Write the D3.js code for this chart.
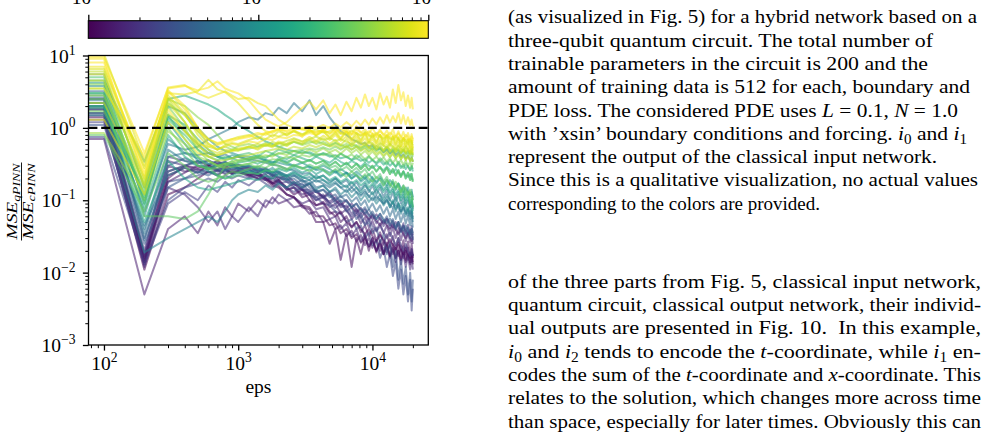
<!doctype html>
<html>
<head>
<meta charset="utf-8">
<script src="https://d3js.org/d3.v7.min.js"></script>
<style>
  body { margin: 0; background: #fff; }
  svg text { font-family: "Liberation Serif", "DejaVu Serif", serif; fill: #000; }
</style>
</head>
<body>
<svg width="1004" height="435"></svg>
<script>
// training steps (x values shared by every run)
var eps = [100, 200, 300, 400, 500, 600, 700, 800, 900, 1000,
           1200, 1400, 1600, 1800, 2000, 2300, 2600, 3000, 3400, 3800,
           4300, 4800, 5300, 5800, 6400, 7000, 7600, 8200, 8800, 9400,
           10000, 10700, 11400, 12100, 12800, 13500, 14200, 14900, 15600, 16300,
           17000, 17700, 18400, 19100, 19600, 20000];

// MSE_q / MSE_c per run, grouped by colour
var purpleTone = [0.05, 0.10, 0.00, 0.15, 0.08, 0.22, 0.12, 0.03, 0.25, 0.02, 0.07, 0.13, 0.18];
var purpleRuns = [
  [1.6, 0.013, 0.2, 0.3, 0.35, 0.3, 0.35, 0.3, 0.32, 0.28,
   0.27, 0.22, 0.23, 0.18, 0.19, 0.14, 0.15, 0.11, 0.12, 0.085,
   0.09, 0.065, 0.07, 0.05, 0.06, 0.042, 0.05, 0.036, 0.045, 0.032,
   0.04, 0.028, 0.036, 0.025, 0.034, 0.023, 0.032, 0.021, 0.03, 0.02,
   0.028, 0.019, 0.027, 0.018, 0.025, 0.017],
  [2.2, 0.015, 0.3, 0.25, 0.27, 0.24, 0.26, 0.23, 0.25, 0.24,
   0.23, 0.2, 0.21, 0.17, 0.18, 0.14, 0.15, 0.12, 0.13, 0.1,
   0.11, 0.08, 0.09, 0.065, 0.075, 0.055, 0.065, 0.048, 0.058, 0.042,
   0.052, 0.038, 0.048, 0.035, 0.045, 0.032, 0.042, 0.03, 0.04, 0.028,
   0.038, 0.027, 0.036, 0.026, 0.034, 0.025],
  [1.4, 0.011, 0.12, 0.15, 0.2, 0.25, 0.22, 0.26, 0.23, 0.25,
   0.22, 0.2, 0.19, 0.16, 0.15, 0.12, 0.11, 0.085, 0.08, 0.06,
   0.06, 0.045, 0.048, 0.035, 0.04, 0.03, 0.034, 0.026, 0.03, 0.023,
   0.027, 0.02, 0.025, 0.018, 0.023, 0.017, 0.021, 0.016, 0.02, 0.015,
   0.019, 0.014, 0.018, 0.013, 0.017, 0.013],
  [1.9, 0.02, 0.4, 0.35, 0.33, 0.35, 0.32, 0.34, 0.3, 0.31,
   0.28, 0.26, 0.25, 0.22, 0.21, 0.18, 0.17, 0.14, 0.14, 0.11,
   0.12, 0.09, 0.1, 0.08, 0.085, 0.065, 0.075, 0.058, 0.068, 0.052,
   0.062, 0.048, 0.058, 0.044, 0.055, 0.041, 0.052, 0.039, 0.05, 0.037,
   0.048, 0.035, 0.046, 0.034, 0.044, 0.033],
  [0.7, 0.005, 0.04, 0.06, 0.035, 0.07, 0.045, 0.08, 0.06, 0.09,
   0.07, 0.1, 0.08, 0.11, 0.09, 0.1, 0.08, 0.085, 0.065, 0.07,
   0.05, 0.055, 0.04, 0.045, 0.032, 0.038, 0.027, 0.033, 0.024, 0.03,
   0.022, 0.028, 0.02, 0.026, 0.019, 0.024, 0.018, 0.022, 0.017, 0.021,
   0.016, 0.02, 0.015, 0.019, 0.014, 0.018],
  [0.75, 0.014, 0.1, 0.15, 0.17, 0.2, 0.18, 0.22, 0.2, 0.22,
   0.2, 0.22, 0.19, 0.2, 0.17, 0.18, 0.15, 0.14, 0.12, 0.11,
   0.09, 0.085, 0.07, 0.065, 0.05, 0.055, 0.04, 0.045, 0.03, 0.036,
   0.024, 0.028, 0.016, 0.022, 0.012, 0.018, 0.009, 0.014, 0.006, 0.011,
   0.005, 0.009, 0.004, 0.008, 0.003, 0.006],
  [1.3, 0.012, 0.15, 0.12, 0.08, 0.05, 0.07, 0.04, 0.06, 0.05,
   0.08, 0.06, 0.1, 0.09, 0.12, 0.1, 0.11, 0.09, 0.1, 0.075,
   0.08, 0.055, 0.06, 0.04, 0.048, 0.032, 0.04, 0.027, 0.034, 0.023,
   0.03, 0.02, 0.027, 0.018, 0.024, 0.016, 0.022, 0.014, 0.02, 0.013,
   0.018, 0.012, 0.017, 0.011, 0.016, 0.011],
  [2.5, 0.017, 0.25, 0.3, 0.28, 0.31, 0.27, 0.3, 0.26, 0.28,
   0.24, 0.22, 0.2, 0.17, 0.16, 0.12, 0.11, 0.08, 0.075, 0.05,
   0.05, 0.025, 0.04, 0.015, 0.035, 0.012, 0.03, 0.018, 0.032, 0.02,
   0.03, 0.019, 0.028, 0.018, 0.026, 0.017, 0.025, 0.016, 0.024, 0.015,
   0.023, 0.015, 0.022, 0.014, 0.021, 0.014],
  [1.1, 0.016, 0.18, 0.2, 0.22, 0.25, 0.23, 0.26, 0.24, 0.25,
   0.23, 0.24, 0.21, 0.22, 0.19, 0.2, 0.16, 0.17, 0.13, 0.14,
   0.11, 0.12, 0.09, 0.1, 0.07, 0.08, 0.055, 0.065, 0.045, 0.05,
   0.035, 0.042, 0.026, 0.034, 0.018, 0.026, 0.012, 0.02, 0.008, 0.015,
   0.007, 0.012, 0.005, 0.01, 0.004, 0.008],
  [1.8, 0.014, 0.22, 0.28, 0.24, 0.3, 0.26, 0.28, 0.24, 0.26,
   0.22, 0.24, 0.2, 0.17, 0.19, 0.15, 0.12, 0.14, 0.1, 0.085,
   0.095, 0.07, 0.06, 0.07, 0.05, 0.043, 0.05, 0.04, 0.034, 0.04,
   0.032, 0.027, 0.033, 0.028, 0.024, 0.029, 0.024, 0.021, 0.026, 0.021,
   0.018, 0.022, 0.018, 0.016, 0.019, 0.016],
  [2.0, 0.016, 0.18, 0.24, 0.3, 0.27, 0.32, 0.28, 0.3, 0.27,
   0.29, 0.25, 0.27, 0.23, 0.2, 0.22, 0.18, 0.15, 0.17, 0.13,
   0.11, 0.13, 0.1, 0.085, 0.1, 0.08, 0.068, 0.078, 0.062, 0.055,
   0.064, 0.052, 0.045, 0.053, 0.045, 0.039, 0.046, 0.039, 0.034, 0.04,
   0.034, 0.03, 0.035, 0.03, 0.027, 0.031],
  [1.5, 0.018, 0.35, 0.3, 0.26, 0.29, 0.25, 0.27, 0.23, 0.25,
   0.21, 0.23, 0.19, 0.21, 0.18, 0.15, 0.17, 0.14, 0.12, 0.135,
   0.11, 0.095, 0.11, 0.09, 0.078, 0.09, 0.075, 0.065, 0.075, 0.064,
   0.055, 0.064, 0.055, 0.048, 0.056, 0.048, 0.042, 0.05, 0.043, 0.038,
   0.044, 0.038, 0.034, 0.039, 0.034, 0.031],
  [1.2, 0.013, 0.09, 0.13, 0.1, 0.16, 0.13, 0.18, 0.15, 0.19,
   0.16, 0.2, 0.17, 0.15, 0.18, 0.15, 0.13, 0.15, 0.12, 0.1,
   0.115, 0.09, 0.078, 0.09, 0.072, 0.06, 0.07, 0.056, 0.047, 0.055,
   0.044, 0.037, 0.044, 0.036, 0.03, 0.036, 0.029, 0.024, 0.03, 0.024,
   0.02, 0.025, 0.02, 0.017, 0.021, 0.017]
];

var blueTone = [0.40, 0.42, 0.34, 0.28, 0.45, 0.37, 0.30, 0.38];
var blueRuns = [
  [2.8, 0.07, 0.6, 0.5, 0.55, 0.7, 0.8, 0.9, 1.0, 1.2,
   1.4, 1.3, 1.6, 1.5, 1.9, 1.6, 2.2, 1.7, 2.4, 1.5,
   2.0, 1.4, 1.1, 0.9, 0.8, 0.7, 0.65, 0.6, 0.62, 0.55,
   0.58, 0.5, 0.52, 0.46, 0.5, 0.44, 0.48, 0.42, 0.45, 0.4,
   0.43, 0.38, 0.41, 0.36, 0.39, 0.34],
  [2.0, 0.04, 0.5, 0.35, 0.3, 0.28, 0.27, 0.26, 0.28, 0.27,
   0.26, 0.25, 0.27, 0.24, 0.25, 0.22, 0.23, 0.2, 0.21, 0.18,
   0.19, 0.16, 0.18, 0.15, 0.16, 0.13, 0.15, 0.12, 0.14, 0.11,
   0.13, 0.1, 0.12, 0.09, 0.11, 0.08, 0.1, 0.07, 0.09, 0.065,
   0.08, 0.06, 0.075, 0.055, 0.07, 0.05],
  [3.2, 0.03, 0.25, 0.3, 0.35, 0.32, 0.34, 0.3, 0.32, 0.29,
   0.3, 0.27, 0.28, 0.24, 0.25, 0.21, 0.22, 0.18, 0.19, 0.15,
   0.16, 0.13, 0.14, 0.11, 0.12, 0.095, 0.11, 0.085, 0.1, 0.075,
   0.09, 0.07, 0.085, 0.065, 0.08, 0.06, 0.075, 0.055, 0.07, 0.05,
   0.065, 0.048, 0.06, 0.045, 0.058, 0.042],
  [1.8, 0.025, 0.15, 0.2, 0.25, 0.22, 0.26, 0.24, 0.27, 0.25,
   0.26, 0.24, 0.25, 0.22, 0.23, 0.19, 0.2, 0.16, 0.17, 0.13,
   0.14, 0.11, 0.12, 0.095, 0.1, 0.08, 0.09, 0.07, 0.08, 0.06,
   0.07, 0.055, 0.065, 0.05, 0.06, 0.045, 0.055, 0.04, 0.05, 0.036,
   0.045, 0.033, 0.042, 0.03, 0.04, 0.028],
  [1.5, 0.019, 0.03, 0.04, 0.05, 0.06, 0.05, 0.07, 0.1, 0.12,
   0.14, 0.13, 0.16, 0.14, 0.17, 0.15, 0.18, 0.15, 0.17, 0.14,
   0.16, 0.13, 0.15, 0.12, 0.14, 0.11, 0.13, 0.1, 0.12, 0.095,
   0.11, 0.09, 0.105, 0.085, 0.1, 0.08, 0.095, 0.075, 0.09, 0.07,
   0.085, 0.065, 0.08, 0.06, 0.075, 0.055],
  [2.4, 0.035, 0.4, 0.45, 0.42, 0.45, 0.4, 0.43, 0.38, 0.4,
   0.37, 0.35, 0.33, 0.31, 0.3, 0.27, 0.26, 0.23, 0.24, 0.2,
   0.22, 0.18, 0.2, 0.17, 0.19, 0.15, 0.18, 0.14, 0.17, 0.13,
   0.16, 0.12, 0.15, 0.11, 0.14, 0.1, 0.13, 0.095, 0.12, 0.09,
   0.11, 0.085, 0.1, 0.08, 0.095, 0.075],
  [2.6, 0.028, 0.3, 0.38, 0.32, 0.36, 0.3, 0.33, 0.29, 0.31,
   0.27, 0.29, 0.25, 0.22, 0.24, 0.2, 0.17, 0.19, 0.15, 0.13,
   0.14, 0.12, 0.1, 0.115, 0.095, 0.08, 0.09, 0.075, 0.065, 0.075,
   0.062, 0.055, 0.065, 0.055, 0.048, 0.056, 0.048, 0.042, 0.05, 0.043,
   0.038, 0.045, 0.038, 0.034, 0.04, 0.035],
  [1.6, 0.045, 0.22, 0.28, 0.24, 0.27, 0.3, 0.26, 0.29, 0.27,
   0.24, 0.27, 0.23, 0.25, 0.21, 0.19, 0.22, 0.19, 0.17, 0.19,
   0.17, 0.15, 0.17, 0.15, 0.13, 0.15, 0.13, 0.115, 0.13, 0.115,
   0.1, 0.115, 0.1, 0.09, 0.1, 0.088, 0.078, 0.09, 0.078, 0.07,
   0.08, 0.07, 0.062, 0.072, 0.063, 0.058]
];

var tealTone = [0.60, 0.55, 0.64, 0.50, 0.58, 0.48, 0.52, 0.62];
var tealRuns = [
  [4.5, 0.34, 2.5, 2.8, 2.4, 2.1, 1.8, 1.5, 1.3, 1.1,
   0.9, 0.75, 0.65, 0.6, 0.55, 0.5, 0.48, 0.45, 0.46, 0.42,
   0.44, 0.4, 0.42, 0.38, 0.4, 0.36, 0.38, 0.35, 0.37, 0.33,
   0.36, 0.32, 0.35, 0.31, 0.34, 0.3, 0.33, 0.29, 0.32, 0.28,
   0.31, 0.27, 0.3, 0.26, 0.29, 0.25],
  [3.0, 0.1, 1.2, 0.6, 0.35, 0.25, 0.22, 0.2, 0.22, 0.24,
   0.25, 0.23, 0.26, 0.24, 0.27, 0.25, 0.28, 0.24, 0.27, 0.23,
   0.26, 0.22, 0.25, 0.21, 0.24, 0.2, 0.23, 0.19, 0.22, 0.18,
   0.21, 0.17, 0.2, 0.16, 0.19, 0.15, 0.18, 0.14, 0.17, 0.13,
   0.16, 0.12, 0.15, 0.11, 0.14, 0.1],
  [2.0, 0.08, 0.8, 0.4, 0.3, 0.28, 0.3, 0.32, 0.3, 0.33,
   0.35, 0.32, 0.36, 0.33, 0.38, 0.34, 0.37, 0.33, 0.36, 0.32,
   0.35, 0.3, 0.34, 0.29, 0.33, 0.28, 0.32, 0.27, 0.31, 0.26,
   0.3, 0.25, 0.29, 0.24, 0.28, 0.23, 0.27, 0.22, 0.26, 0.21,
   0.25, 0.2, 0.24, 0.19, 0.23, 0.18],
  [5.5, 0.15, 2.0, 1.6, 1.0, 0.7, 0.55, 0.48, 0.45, 0.42,
   0.4, 0.38, 0.36, 0.34, 0.33, 0.31, 0.3, 0.28, 0.29, 0.26,
   0.27, 0.24, 0.26, 0.22, 0.24, 0.2, 0.22, 0.18, 0.2, 0.17,
   0.19, 0.15, 0.17, 0.14, 0.16, 0.13, 0.15, 0.12, 0.14, 0.11,
   0.13, 0.1, 0.12, 0.09, 0.11, 0.08],
  [2.2, 0.05, 0.35, 0.2, 0.15, 0.14, 0.15, 0.16, 0.17, 0.18,
   0.2, 0.19, 0.22, 0.2, 0.23, 0.21, 0.24, 0.21, 0.23, 0.2,
   0.22, 0.19, 0.21, 0.18, 0.2, 0.17, 0.19, 0.16, 0.18, 0.15,
   0.17, 0.14, 0.16, 0.13, 0.15, 0.12, 0.14, 0.11, 0.13, 0.1,
   0.12, 0.09, 0.11, 0.08, 0.1, 0.07],
  [3.8, 0.06, 0.7, 0.45, 0.38, 0.32, 0.3, 0.34, 0.3, 0.28,
   0.3, 0.27, 0.25, 0.28, 0.24, 0.22, 0.25, 0.21, 0.19, 0.22,
   0.19, 0.17, 0.2, 0.17, 0.15, 0.18, 0.15, 0.13, 0.16, 0.14,
   0.12, 0.14, 0.12, 0.1, 0.12, 0.1, 0.09, 0.11, 0.09, 0.08,
   0.095, 0.08, 0.07, 0.085, 0.07, 0.065],
  [4.2, 0.09, 1.4, 0.9, 0.6, 0.45, 0.4, 0.38, 0.42, 0.4,
   0.36, 0.4, 0.35, 0.32, 0.36, 0.33, 0.3, 0.33, 0.29, 0.27,
   0.3, 0.27, 0.24, 0.27, 0.24, 0.22, 0.25, 0.22, 0.2, 0.23,
   0.2, 0.18, 0.21, 0.18, 0.16, 0.19, 0.17, 0.15, 0.17, 0.15,
   0.13, 0.15, 0.13, 0.12, 0.13, 0.11],
  [1.9, 0.12, 1.5, 1.1, 0.7, 0.5, 0.4, 0.36, 0.38, 0.35,
   0.38, 0.42, 0.38, 0.44, 0.4, 0.37, 0.42, 0.38, 0.35, 0.4,
   0.36, 0.33, 0.38, 0.34, 0.31, 0.35, 0.32, 0.29, 0.33, 0.3,
   0.28, 0.31, 0.28, 0.26, 0.29, 0.26, 0.24, 0.27, 0.24, 0.22,
   0.25, 0.22, 0.21, 0.23, 0.2, 0.19]
];

var greenTone = [0.85, 0.80, 0.75, 0.82, 0.72, 0.78, 0.70, 0.83, 0.76];
var greenRuns = [
  [0.85, 0.1, 0.9, 0.6, 0.4, 0.35, 0.3, 0.32, 0.34, 0.36,
   0.38, 0.4, 0.42, 0.4, 0.45, 0.42, 0.48, 0.44, 0.5, 0.46,
   0.52, 0.46, 0.5, 0.44, 0.52, 0.45, 0.5, 0.43, 0.48, 0.42,
   0.47, 0.41, 0.46, 0.4, 0.45, 0.39, 0.44, 0.38, 0.43, 0.37,
   0.42, 0.36, 0.41, 0.35, 0.4, 0.34],
  [3.5, 0.12, 2.0, 1.0, 0.5, 0.35, 0.3, 0.28, 0.29, 0.3,
   0.32, 0.35, 0.34, 0.37, 0.36, 0.4, 0.38, 0.42, 0.4, 0.44,
   0.42, 0.45, 0.4, 0.44, 0.39, 0.43, 0.38, 0.42, 0.37, 0.41,
   0.36, 0.4, 0.35, 0.39, 0.34, 0.38, 0.33, 0.37, 0.32, 0.36,
   0.31, 0.35, 0.3, 0.34, 0.29, 0.33],
  [2.5, 0.06, 0.06, 0.055, 0.07, 0.12, 0.2, 0.3, 0.35, 0.3,
   0.32, 0.28, 0.34, 0.3, 0.36, 0.32, 0.38, 0.33, 0.36, 0.32,
   0.35, 0.3, 0.34, 0.29, 0.33, 0.28, 0.32, 0.27, 0.31, 0.26,
   0.3, 0.25, 0.29, 0.24, 0.28, 0.23, 0.27, 0.22, 0.26, 0.21,
   0.25, 0.2, 0.24, 0.19, 0.23, 0.18],
  [4.0, 0.2, 2.5, 2.0, 1.4, 1.1, 0.8, 0.6, 0.55, 0.5,
   0.52, 0.55, 0.58, 0.56, 0.62, 0.58, 0.64, 0.6, 0.66, 0.6,
   0.64, 0.58, 0.62, 0.56, 0.6, 0.55, 0.58, 0.53, 0.57, 0.52,
   0.56, 0.5, 0.55, 0.49, 0.54, 0.48, 0.52, 0.47, 0.51, 0.46,
   0.5, 0.45, 0.49, 0.44, 0.47, 0.43],
  [5.0, 0.09, 1.5, 0.7, 0.4, 0.28, 0.22, 0.2, 0.21, 0.22,
   0.24, 0.23, 0.26, 0.25, 0.28, 0.26, 0.3, 0.27, 0.31, 0.28,
   0.32, 0.28, 0.3, 0.26, 0.29, 0.25, 0.28, 0.24, 0.27, 0.22,
   0.25, 0.2, 0.23, 0.18, 0.21, 0.16, 0.19, 0.14, 0.17, 0.12,
   0.15, 0.11, 0.13, 0.09, 0.11, 0.08],
  [1.7, 0.14, 1.0, 0.5, 0.3, 0.27, 0.28, 0.3, 0.32, 0.34,
   0.36, 0.38, 0.4, 0.42, 0.44, 0.46, 0.48, 0.5, 0.52, 0.5,
   0.54, 0.5, 0.55, 0.5, 0.56, 0.5, 0.55, 0.49, 0.54, 0.48,
   0.53, 0.47, 0.52, 0.46, 0.51, 0.45, 0.5, 0.44, 0.49, 0.43,
   0.48, 0.42, 0.47, 0.41, 0.46, 0.4],
  [3.0, 0.11, 1.3, 0.8, 0.5, 0.4, 0.36, 0.4, 0.38, 0.42,
   0.45, 0.4, 0.48, 0.44, 0.5, 0.46, 0.42, 0.48, 0.44, 0.4,
   0.45, 0.42, 0.38, 0.44, 0.4, 0.36, 0.42, 0.38, 0.34, 0.4,
   0.36, 0.33, 0.38, 0.34, 0.31, 0.36, 0.32, 0.29, 0.34, 0.3,
   0.28, 0.32, 0.29, 0.26, 0.3, 0.27],
  [2.8, 0.17, 2.2, 1.5, 0.9, 0.6, 0.5, 0.55, 0.5, 0.56,
   0.6, 0.55, 0.62, 0.58, 0.54, 0.6, 0.64, 0.58, 0.62, 0.66,
   0.6, 0.56, 0.62, 0.58, 0.54, 0.6, 0.56, 0.52, 0.58, 0.54,
   0.5, 0.56, 0.52, 0.48, 0.54, 0.5, 0.46, 0.52, 0.48, 0.45,
   0.5, 0.46, 0.43, 0.48, 0.44, 0.42],
  [0.8, 0.07, 0.45, 0.3, 0.2, 0.18, 0.2, 0.22, 0.25, 0.24,
   0.27, 0.3, 0.28, 0.32, 0.3, 0.27, 0.31, 0.28, 0.25, 0.29,
   0.26, 0.23, 0.27, 0.24, 0.21, 0.25, 0.22, 0.2, 0.23, 0.2,
   0.18, 0.21, 0.19, 0.16, 0.19, 0.17, 0.15, 0.18, 0.15, 0.13,
   0.16, 0.14, 0.12, 0.14, 0.12, 0.1]
];

var yellowTone = [1.00, 0.97, 0.95, 0.99, 0.93, 1.00, 0.96, 0.90, 0.98, 0.94, 0.99, 0.91];
var yellowRuns = [
  [9.5, 0.45, 3.5, 3.8, 3.3, 3.6, 4.4, 3.5, 3.2, 3.0,
   2.4, 1.7, 1.3, 1.15, 1.05, 1.2, 1.5, 1.9, 2.3, 1.8,
   2.4, 1.6, 2.1, 1.5, 2.3, 1.7, 2.6, 1.9, 2.9, 2.0,
   2.6, 1.8, 3.0, 2.1, 2.7, 1.9, 3.4, 2.2, 3.9, 2.4,
   3.1, 2.0, 2.8, 1.9, 2.6, 1.8],
  [7.0, 0.3, 3.0, 2.9, 3.2, 4.6, 3.4, 3.1, 2.6, 2.2,
   1.5, 1.1, 0.9, 0.85, 0.95, 0.8, 0.9, 0.75, 0.95, 0.8,
   0.9, 0.72, 0.85, 0.7, 0.88, 0.68, 0.8, 0.66, 0.82, 0.64,
   0.78, 0.62, 0.8, 0.6, 0.74, 0.58, 0.76, 0.6, 0.7, 0.56,
   0.72, 0.55, 0.68, 0.52, 0.66, 0.5],
  [10.5, 0.35, 2.6, 1.5, 0.9, 0.7, 0.6, 0.65, 0.7, 0.75,
   0.8, 0.7, 0.85, 0.75, 0.9, 0.78, 0.92, 0.8, 0.95, 0.78,
   0.9, 0.75, 0.88, 0.72, 0.92, 0.7, 0.85, 0.68, 0.86, 0.66,
   0.82, 0.64, 0.8, 0.62, 0.78, 0.6, 0.76, 0.58, 0.74, 0.56,
   0.72, 0.56, 0.7, 0.54, 0.66, 0.52],
  [5.5, 0.22, 3.3, 2.0, 1.0, 0.6, 0.5, 0.55, 0.6, 0.58,
   0.65, 0.62, 0.7, 0.68, 0.75, 0.72, 0.8, 0.78, 0.85, 0.8,
   0.95, 0.82, 1.0, 0.85, 0.98, 0.84, 1.05, 0.86, 0.95, 0.82,
   1.0, 0.8, 0.95, 0.78, 0.92, 0.76, 0.96, 0.74, 0.9, 0.72,
   0.88, 0.7, 0.85, 0.68, 0.82, 0.66],
  [4.5, 0.18, 2.2, 1.2, 0.65, 0.5, 0.45, 0.5, 0.48, 0.52,
   0.55, 0.5, 0.58, 0.54, 0.62, 0.56, 0.66, 0.6, 0.7, 0.62,
   0.72, 0.6, 0.68, 0.58, 0.7, 0.56, 0.66, 0.55, 0.64, 0.52,
   0.62, 0.5, 0.6, 0.48, 0.58, 0.47, 0.56, 0.46, 0.55, 0.45,
   0.54, 0.44, 0.52, 0.43, 0.5, 0.42],
  [8.0, 0.25, 1.8, 0.9, 0.6, 0.55, 0.58, 0.62, 0.66, 0.7,
   0.75, 0.8, 0.85, 0.9, 0.95, 0.92, 1.0, 0.96, 1.05, 1.0,
   1.1, 1.0, 1.15, 1.02, 1.2, 1.05, 1.25, 1.08, 1.3, 1.1,
   1.35, 1.12, 1.4, 1.15, 1.5, 1.18, 1.45, 1.2, 1.6, 1.15,
   1.5, 1.12, 1.4, 1.1, 1.3, 1.05],
  [1.3, 0.12, 1.2, 0.7, 0.45, 0.4, 0.42, 0.45, 0.48, 0.5,
   0.55, 0.52, 0.6, 0.56, 0.65, 0.6, 0.7, 0.64, 0.75, 0.66,
   0.78, 0.68, 0.8, 0.66, 0.76, 0.64, 0.74, 0.62, 0.72, 0.6,
   0.7, 0.58, 0.68, 0.56, 0.66, 0.55, 0.64, 0.52, 0.62, 0.5,
   0.6, 0.48, 0.58, 0.46, 0.55, 0.45],
  [6.0, 0.15, 2.5, 1.2, 0.6, 0.4, 0.35, 0.36, 0.38, 0.4,
   0.42, 0.45, 0.48, 0.5, 0.52, 0.5, 0.55, 0.52, 0.58, 0.54,
   0.6, 0.55, 0.58, 0.52, 0.56, 0.5, 0.55, 0.48, 0.52, 0.46,
   0.5, 0.44, 0.48, 0.42, 0.47, 0.4, 0.45, 0.38, 0.44, 0.37,
   0.42, 0.36, 0.4, 0.35, 0.38, 0.34],
  [3.5, 0.4, 3.6, 3.9, 3.0, 2.6, 2.9, 3.2, 2.8, 2.5,
   2.6, 2.2, 2.0, 1.6, 1.3, 1.1, 1.0, 0.95, 0.9, 0.88,
   0.92, 0.85, 0.9, 0.82, 0.88, 0.8, 0.86, 0.78, 0.84, 0.76,
   0.82, 0.74, 0.8, 0.72, 0.78, 0.7, 0.76, 0.68, 0.74, 0.66,
   0.72, 0.65, 0.7, 0.64, 0.68, 0.62],
  [6.5, 0.28, 2.8, 1.6, 0.8, 0.55, 0.5, 0.58, 0.62, 0.6,
   0.68, 0.74, 0.7, 0.8, 0.76, 0.84, 0.9, 0.82, 0.88, 0.95,
   0.86, 0.9, 0.98, 0.85, 0.8, 0.92, 0.84, 0.78, 0.88, 0.8,
   0.74, 0.85, 0.76, 0.7, 0.8, 0.72, 0.68, 0.78, 0.7, 0.64,
   0.72, 0.66, 0.6, 0.7, 0.62, 0.58],
  [9.0, 0.2, 3.2, 1.8, 1.0, 0.7, 0.62, 0.66, 0.7, 0.72,
   0.78, 0.85, 0.8, 0.9, 0.98, 0.88, 0.94, 1.0, 0.92, 0.86,
   0.95, 1.02, 0.9, 0.96, 0.88, 0.82, 0.94, 0.86, 0.8, 0.9,
   0.84, 0.78, 0.9, 0.82, 0.76, 0.86, 0.8, 0.74, 0.84, 0.76,
   0.7, 0.8, 0.74, 0.68, 0.76, 0.7],
  [2.2, 0.16, 1.6, 0.9, 0.55, 0.45, 0.42, 0.46, 0.5, 0.48,
   0.55, 0.6, 0.56, 0.64, 0.6, 0.66, 0.72, 0.65, 0.7, 0.76,
   0.68, 0.72, 0.66, 0.7, 0.64, 0.6, 0.68, 0.62, 0.58, 0.64,
   0.6, 0.55, 0.62, 0.57, 0.53, 0.6, 0.55, 0.5, 0.57, 0.52,
   0.48, 0.55, 0.5, 0.46, 0.52, 0.48]
];

var xMajor = [100, 1000, 10000];
var yMajor = [10, 1, 0.1, 0.01, 0.001];
var cbarMajor = [0.001, 0.01, 0.1];

// text column on the right
var captionLines = [
  [["(as visualized in Fig. 5) for a hybrid network based on a"]],
  [["three-qubit quantum circuit. The total number of"]],
  [["trainable parameters in the circuit is 200 and the"]],
  [["amount of training data is 512 for each, boundary and"]],
  [["PDE loss. The considered PDE uses "], ["L", "i"], [" = 0.1, "], ["N", "i"], [" = 1.0"]],
  [["with \u2019xsin\u2019 boundary conditions and forcing. "], ["i", "i"], ["0", "s"], [" and "], ["i", "i"], ["1", "s"]],
  [["represent the output of the classical input network."]],
  [["Since this is a qualitative visualization, no actual values"]],
  [["corresponding to the colors are provided."]]
];
var captionWidths = [469, 425, 420, 462, 450, 459, 429, 470, 312];

var bodyLines = [
  [["of the three parts from Fig. 5, classical input network,"]],
  [["quantum circuit, classical output network, their individ-"]],
  [["ual outputs are presented in Fig. 10.  In this example,"]],
  [["i", "i"], ["0", "s"], [" and "], ["i", "i"], ["2", "s"], [" tends to encode the "], ["t", "i"], ["-coordinate, while "], ["i", "i"], ["1", "s"], [" en-"]],
  [["codes the sum of the "], ["t", "i"], ["-coordinate and "], ["x", "i"], ["-coordinate. This"]],
  [["relates to the solution, which changes more across time"]],
  [["than space, especially for later times. Obviously this can"]]
];

var svg = d3.select("svg");
var plotL = 88.5, plotR = 428.3, plotT = 55.5, plotB = 345;

var x = d3.scaleLog().domain([76.7, 26070]).range([plotL, plotR]);
var y = d3.scaleLog().domain([1e-3, 10]).range([plotB, plotT]);

svg.append("clipPath").attr("id", "plotClip")
  .append("rect").attr("x", plotL).attr("y", plotT)
  .attr("width", plotR - plotL).attr("height", plotB - plotT);

var line = d3.line().x(d => x(d[0])).y(d => y(d[1]));

var linesG = svg.append("g").attr("clip-path", "url(#plotClip)");
[[purpleRuns, purpleTone], [blueRuns, blueTone], [tealRuns, tealTone],
 [greenRuns, greenTone], [yellowRuns, yellowTone]].forEach(function(gr) {
  gr[0].forEach(function(run, i) {
    var pts = run.map((v, k) => [eps[k], v]);
    pts.unshift([x.domain()[0], run[0]]);   // run starts at the left edge
    linesG.append("path")
      .attr("d", line(pts))
      .attr("fill", "none")
      .attr("stroke", d3.interpolateViridis(gr[1][i]))
      .attr("stroke-width", 2)
      .attr("stroke-opacity", 0.55)
      .attr("stroke-linejoin", "round");
  });
});

// ratio = 1
linesG.append("line")
  .attr("x1", plotL).attr("x2", plotR)
  .attr("y1", y(1)).attr("y2", y(1))
  .attr("stroke", "#000").attr("stroke-width", 2.2)
  .attr("stroke-dasharray", "8.9,3.8");

function expLabel(sel, val) {
  var e = Math.round(Math.log10(val));
  sel.text(null);
  sel.append("tspan").text("10");
  sel.append("tspan").attr("dy", -8).attr("font-size", 13.6)
    .text(e < 0 ? "\u2212" + (-e) : String(e));
}

// x axis
var xMinor = x.ticks().filter(v => xMajor.indexOf(v) < 0);
svg.append("g").attr("transform", "translate(0," + plotB + ")")
  .call(d3.axisBottom(x).tickValues(xMinor).tickSize(3.2).tickFormat(""))
  .call(g => g.select(".domain").remove())
  .call(g => g.selectAll("line").attr("stroke-width", 1));
var xAx = svg.append("g").attr("transform", "translate(0," + plotB + ")")
  .call(d3.axisBottom(x).tickValues(xMajor).tickSize(5.6).tickFormat(""));
xAx.select(".domain").remove();
xAx.selectAll("line").attr("stroke-width", 1.3);
xAx.selectAll(".tick text").attr("y", 25).attr("dy", null)
  .attr("font-size", 19.5).each(function(d) { expLabel(d3.select(this), d); });

// y axis
var yMinor = y.ticks().filter(v => yMajor.indexOf(v) < 0);
svg.append("g").attr("transform", "translate(" + plotL + ",0)")
  .call(d3.axisLeft(y).tickValues(yMinor).tickSize(3.2).tickFormat(""))
  .call(g => g.select(".domain").remove())
  .call(g => g.selectAll("line").attr("stroke-width", 1));
var yAx = svg.append("g").attr("transform", "translate(" + plotL + ",0)")
  .call(d3.axisLeft(y).tickValues(yMajor).tickSize(5.6).tickFormat(""));
yAx.select(".domain").remove();
yAx.selectAll("line").attr("stroke-width", 1.3);
yAx.selectAll(".tick text").attr("x", -13).attr("dy", 6.5)
  .attr("font-size", 19.5).each(function(d) { expLabel(d3.select(this), d); });

// frame
svg.append("rect")
  .attr("x", plotL).attr("y", plotT)
  .attr("width", plotR - plotL).attr("height", plotB - plotT)
  .attr("fill", "none").attr("stroke", "#000").attr("stroke-width", 1.3);

// axis titles
svg.append("text")
  .attr("x", (plotL + plotR) / 2).attr("y", 393)
  .attr("text-anchor", "middle").attr("font-size", 19.5)
  .text("eps");

var frac = svg.append("g").attr("transform", "translate(21.5,201.5) rotate(-90)");
frac.append("line").attr("x1", -39).attr("x2", 39).attr("y1", 0).attr("y2", 0)
  .attr("stroke", "#000").attr("stroke-width", 0.9);
[["qPINN", -4.3], ["cPINN", 11.3]].forEach(function(p) {
  var t = frac.append("text").attr("x", 0).attr("y", p[1])
    .attr("text-anchor", "middle").attr("font-style", "italic")
    .attr("font-size", 13.6).attr("textLength", 76)
    .attr("lengthAdjust", "spacingAndGlyphs");
  t.append("tspan").text("MSE");
  t.append("tspan").attr("dy", 2.3).attr("font-size", 9.7).text(p[0]);
});

// colour bar
var grad = svg.append("defs").append("linearGradient").attr("id", "viridisGrad");
d3.range(0, 1.0001, 0.05).forEach(function(t) {
  grad.append("stop").attr("offset", t).attr("stop-color", d3.interpolateViridis(t));
});
var cbTop = 20.7, cbBottom = 38.3, cbLeft = 88.3, cbRight = 428.3;
svg.append("rect")
  .attr("x", cbLeft).attr("y", cbTop)
  .attr("width", cbRight - cbLeft).attr("height", cbBottom - cbTop)
  .attr("fill", "url(#viridisGrad)").attr("stroke", "#000").attr("stroke-width", 1.1);
var cb = d3.scaleLog().domain([cbarMajor[0], cbarMajor[2]]).range([cbLeft, cbRight]);
var cbMinor = cb.ticks().filter(v => cbarMajor.indexOf(v) < 0);
svg.append("g").attr("transform", "translate(0," + cbTop + ")")
  .call(d3.axisTop(cb).tickValues(cbMinor).tickSize(3.3).tickFormat(""))
  .call(g => g.select(".domain").remove())
  .call(g => g.selectAll("line").attr("stroke-width", 1));
var cbAx = svg.append("g").attr("transform", "translate(0," + cbTop + ")")
  .call(d3.axisTop(cb).tickValues(cbarMajor).tickSize(6).tickFormat(""));
cbAx.select(".domain").remove();
cbAx.selectAll("line").attr("stroke-width", 1.3);
cbAx.selectAll(".tick text").attr("y", -16.7).attr("dy", null)
  .attr("font-size", 19.5).each(function(d) { expLabel(d3.select(this), d); });

// running text
function writeLine(x0, yb, width, segs) {
  var t = svg.append("text").attr("x", x0).attr("y", yb)
    .attr("font-size", 19.5).style("white-space", "pre")
    .attr("textLength", width).attr("lengthAdjust", "spacingAndGlyphs");
  var shift = 0;
  segs.forEach(function(s) {
    var ts = t.append("tspan").text(s[0]);
    var want = s[1] === "s" ? 4.5 : 0;
    if (want !== shift) { ts.attr("dy", want - shift); shift = want; }
    if (s[1] === "i") ts.attr("font-style", "italic");
    if (s[1] === "s") ts.attr("font-size", 13.6);
  });
}
captionLines.forEach((segs, k) => writeLine(508, 23.3 + 23.3 * k, captionWidths[k], segs));
bodyLines.forEach((segs, k) => writeLine(508, 287.7 + 23.3 * k, 473, segs));
</script>
</body>
</html>
